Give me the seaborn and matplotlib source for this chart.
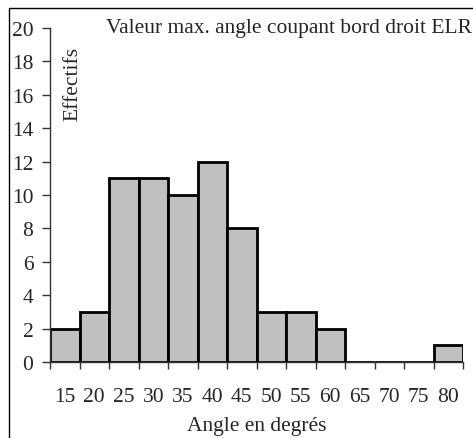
import seaborn as sns
import pandas as pd
import matplotlib.pyplot as plt
from matplotlib.patches import Rectangle

sns.set_style("white")
plt.rcParams["font.family"] = ["Liberation Serif", "DejaVu Serif"]

angles = ["15", "20", "25", "30", "35", "40", "45", "50", "55", "60", "65", "70", "75", "80"]
effectifs = [2, 3, 11, 11, 10, 12, 8, 3, 3, 2, 0, 0, 0, 1]

df = pd.DataFrame({"Angle": angles, "Effectifs": effectifs})

fig = plt.figure(figsize=(4.73, 4.39), dpi=100)
ax = fig.add_axes([50 / 473, 1 - 363 / 439, 413 / 473, 334 / 439])

sns.barplot(data=df, x="Angle", y="Effectifs", color="#c0c0c0", width=1,
            edgecolor="black", linewidth=2, saturation=1, ax=ax)

fs = 15.5
ax.set_xlim(-0.5, len(angles) - 0.5)
ax.set_ylim(0, 20)
ax.set_yticks(range(0, 21, 2))
ax.tick_params(axis="y", labelsize=fs, length=6, width=1, pad=6, left=True, color="#333333")
ax.set_xticks(range(len(angles)), angles)
ax.tick_params(axis="x", which="major", labelsize=fs, length=0, pad=18)
ax.set_xticks([i - 0.5 for i in range(len(angles) + 1)], minor=True)
ax.tick_params(axis="x", which="minor", length=5, width=1, bottom=True, color="#333333")

for side in ["top", "right"]:
    ax.spines[side].set_visible(False)
for side in ["left", "bottom"]:
    ax.spines[side].set_color("#333333")
    ax.spines[side].set_linewidth(1)

ax.set_xlabel("Angle en degrés", fontsize=fs, labelpad=7)
ax.set_ylabel("")
ax.text(0.056, 0.835, "Effectifs", rotation=90, transform=ax.transAxes,
        fontsize=fs, ha="center", va="center")
fig.text(472 / 473, 1 - 29 / 439, "Valeur max. angle coupant bord droit ELR",
         fontsize=fs, ha="right", va="center")

fig.patches.append(Rectangle((9 / 473, -0.1), 1.2, 1 - 9 / 439 + 0.1, transform=fig.transFigure,
                             fill=False, edgecolor="black", linewidth=1))

plt.savefig("out.png", dpi=100)
